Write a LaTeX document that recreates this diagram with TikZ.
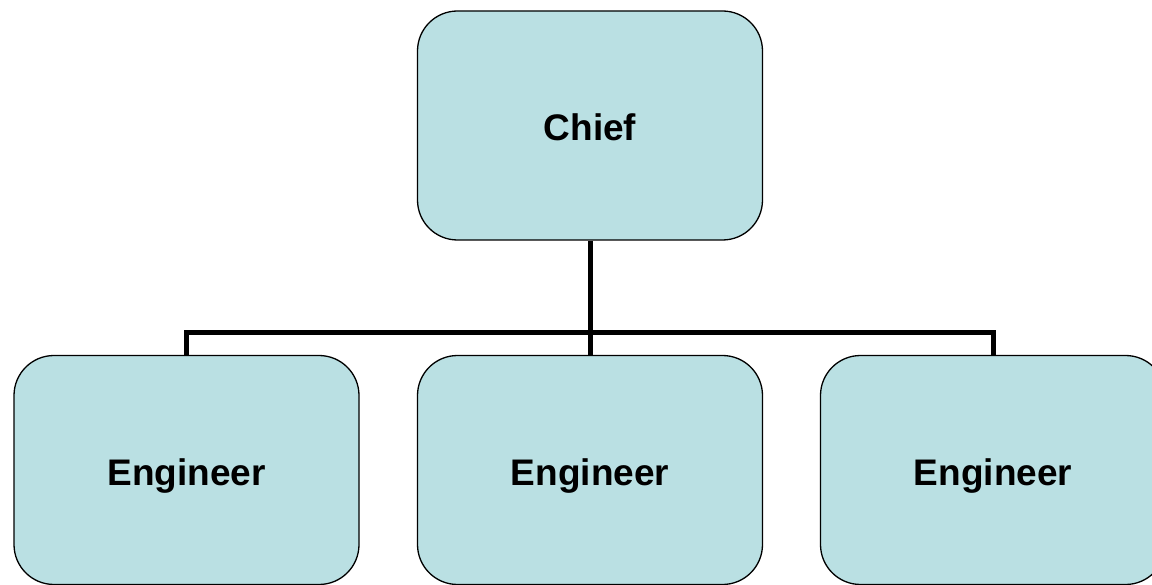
\documentclass[tikz,border=0pt]{standalone}
\usepackage{fontspec}
\setmainfont{Liberation Sans}
\begin{document}
\begin{tikzpicture}[x=1pt,y=-1pt,
  box/.style={draw=black, line width=1.3pt, fill=boxfill, rounded corners=40pt,
    minimum width=345pt, minimum height=229pt, inner sep=0pt,
    text height=30.5pt, text depth=0pt,
    font=\fontsize{37}{44}\selectfont\bfseries},
  link/.style={line width=5pt, draw=black}]
\definecolor{boxfill}{HTML}{BAE0E3}
\useasboundingbox (0,0) rectangle (1152,585);
\fill[white] (0,0) rectangle (1152,585);
\coordinate (bus) at (590,333);
\node[box] (chief) at (590,125.5) {Chief};
\node[box] (left) at (186.5,470) {Engineer};
\node[box] (mid) at (590,470) {Engineer};
\node[box] (right) at (993,470) {Engineer};
\draw[link] (chief.south) -- (mid.north);
\draw[link] (left.north) |- (bus) -| (right.north);
\end{tikzpicture}
\end{document}
